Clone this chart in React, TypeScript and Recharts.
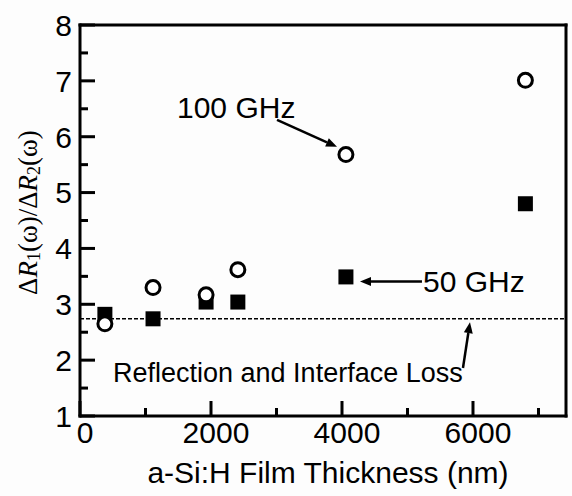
import React from 'react';
import { ScatterChart, Scatter, XAxis, YAxis, ReferenceLine, ReferenceDot, Label } from 'recharts';

// film thickness (nm) and the ratio dR1/dR2
const thickness = [380, 1115, 1925, 2410, 4060, 6800];
const ratio100GHz = [2.65, 3.30, 3.17, 3.62, 5.68, 7.01];
const ratio50GHz = [2.82, 2.74, 3.04, 3.04, 3.49, 4.80];
const lossLevel = 2.74;

const xTicks = [0, 1000, 2000, 3000, 4000, 5000, 6000, 7000];
const yTicks = [1, 1.5, 2, 2.5, 3, 3.5, 4, 4.5, 5, 5.5, 6, 6.5, 7, 7.5, 8];

// annotation anchors, in data units
const noteText = ['100 GHz', '50 GHz', 'Reflection and Interface Loss'];
const noteX = [1481, 5237, 504];
const noteY = [6.53, 3.41, 1.79];
const arrowFrom = [[3008, 6.3], [5221, 3.41], [5847, 1.86]];
const arrowTo = [[3924, 5.82], [4275, 3.41], [5954, 2.68]];

const data100 = thickness.map((x, i) => ({ x, y: ratio100GHz[i] }));
const data50 = thickness.map((x, i) => ({ x, y: ratio50GHz[i] }));

const FONT = '"Liberation Sans", Arial, sans-serif';
const axisLine = { stroke: '#000', strokeWidth: 3, strokeLinecap: 'square' as const };

// bottom axis: inward tick drawn as a thin rect, plus the label
const BottomTick = (props: any) => {
  const { x, y, payload } = props;
  const major = payload.value % 2000 === 0;
  const l = major ? 15 : 8;
  return (
    <g>
      <rect x={x - 1.5} y={y - l} width={3} height={l} fill="#000" />
      {major && (
        <text x={x + 5} y={y + 16} dy="0.36em" textAnchor="middle" fontFamily={FONT} fontSize={30} fill="#000">
          {payload.value}
        </text>
      )}
    </g>
  );
};

const TopTick = (props: any) => {
  const { x, y, payload } = props;
  const l = payload.value % 2000 === 0 ? 15 : 8;
  return <rect x={x - 1.5} y={y} width={3} height={l} fill="#000" />;
};

const LeftTick = (props: any) => {
  const { x, y, payload } = props;
  const major = Number.isInteger(payload.value);
  const l = major ? 15 : 8;
  return (
    <g>
      <rect x={x} y={y - 1.5} width={l} height={3} fill="#000" />
      {major && (
        <text x={x - 8} y={y} dy="0.36em" textAnchor="end" fontFamily={FONT} fontSize={30} fill="#000">
          {payload.value}
        </text>
      )}
    </g>
  );
};

const RightTick = (props: any) => {
  const { x, y, payload } = props;
  const l = Number.isInteger(payload.value) ? 15 : 8;
  return <rect x={x - l} y={y - 1.5} width={l} height={3} fill="#000" />;
};

const YTitle = (props: any) => {
  const vb = props.viewBox;
  const cx = vb.x + 28;
  const cy = vb.y + vb.height / 2 - 8;
  return (
    <text transform={`translate(${cx},${cy}) rotate(-90)`} textAnchor="middle" dominantBaseline="central"
      fontFamily='"Liberation Serif", "Times New Roman", serif' fontSize={27} fill="#000">
      Δ<tspan fontStyle="italic">R</tspan>
      <tspan fontSize={18} dy={6}>1</tspan>
      <tspan dy={-6}>(ω)/Δ</tspan>
      <tspan fontStyle="italic">R</tspan>
      <tspan fontSize={18} dy={6}>2</tspan>
      <tspan dy={-6}>(ω)</tspan>
    </text>
  );
};

const XTitle = (props: any) => {
  const vb = props.viewBox;
  return (
    <text x={vb.x + vb.width / 2 + 5} y={vb.y + 56} dy="0.36em" textAnchor="middle" fontFamily={FONT} fontSize={30} fill="#000">
      a-Si:H Film Thickness (nm)
    </text>
  );
};

const arrowShape = (p: any) => {
  const { x1, y1, x2, y2 } = p;
  const a = Math.atan2(y2 - y1, x2 - x1);
  const len = 11;
  const w = 4.5;
  const bx = x2 - len * Math.cos(a);
  const by = y2 - len * Math.sin(a);
  const nx = -Math.sin(a) * w;
  const ny = Math.cos(a) * w;
  return (
    <g>
      <line x1={x1} y1={y1} x2={bx} y2={by} stroke="#000" strokeWidth={2.5} />
      <polygon points={`${x2},${y2} ${bx + nx},${by + ny} ${bx - nx},${by - ny}`} fill="#000" />
    </g>
  );
};

export default function App() {
  return (
    <div style={{ position: 'absolute', left: 0, top: 0, background: '#fdfdfd' }}>
      <ScatterChart width={572} height={496} margin={{ top: 0, right: 0, bottom: 0, left: 0 }}>
        <XAxis type="number" dataKey="x" domain={[0, 7420]} ticks={xTicks} interval={0}
          height={80} tickSize={0} tickMargin={0} tickLine={false} axisLine={axisLine} tick={BottomTick}>
          <Label content={XTitle} />
        </XAxis>
        <XAxis xAxisId="top" orientation="top" type="number" dataKey="x" domain={[0, 7420]} ticks={xTicks}
          interval={0} height={25} tickSize={0} tickMargin={0} tickLine={false} axisLine={axisLine} tick={TopTick} />
        <YAxis type="number" dataKey="y" domain={[1, 8]} ticks={yTicks} interval={0}
          width={80} tickSize={0} tickMargin={0} tickLine={false} axisLine={axisLine} tick={LeftTick}>
          <Label content={YTitle} />
        </YAxis>
        <YAxis yAxisId="right" orientation="right" type="number" dataKey="y" domain={[1, 8]} ticks={yTicks}
          interval={0} width={6} tickSize={0} tickMargin={0} tickLine={false} axisLine={axisLine} tick={RightTick} />

        <ReferenceLine y={lossLevel} stroke="#000" strokeWidth={1.5} strokeDasharray="4 2" />

        <Scatter data={data50} isAnimationActive={false}
          shape={(p: any) => <rect x={p.cx - 7.5} y={p.cy - 7.5} width={15} height={15} fill="#000" />} />
        <Scatter data={data100} isAnimationActive={false}
          shape={(p: any) => <circle cx={p.cx} cy={p.cy} r={7} fill="#fff" stroke="#000" strokeWidth={3} />} />

        {arrowFrom.map((f, i) => (
          <ReferenceLine key={'a' + i} segment={[{ x: f[0], y: f[1] }, { x: arrowTo[i][0], y: arrowTo[i][1] }]}
            shape={arrowShape} />
        ))}
        {noteText.map((t, i) => (
          <ReferenceDot key={'n' + i} x={noteX[i]} y={noteY[i]} r={0}
            shape={(p: any) => (
              <text x={p.cx} y={p.cy} dy="0.36em" textAnchor="start" fontFamily={FONT}
                fontSize={i === 2 ? 27 : 30} fill="#000">{t}</text>
            )} />
        ))}
      </ScatterChart>
    </div>
  );
}
